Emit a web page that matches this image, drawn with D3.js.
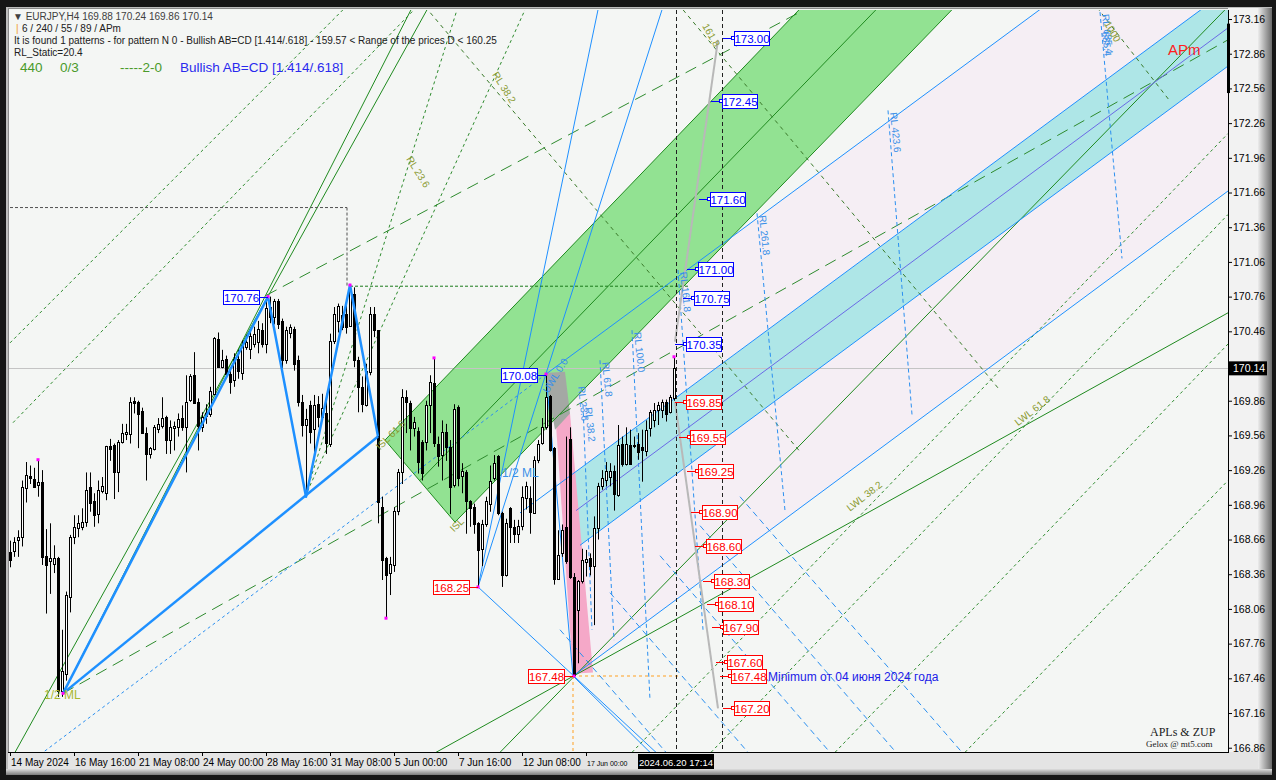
<!DOCTYPE html>
<html>
<head>
<meta charset="utf-8">
<script src="https://cdn.jsdelivr.net/npm/d3@7"></script>
<style>
body { margin: 0; background: #1a1a1a; }
svg { display: block; }
</style>
</head>
<body>
<svg id="chart"></svg>
<script>
// EURJPY H4 bars, 14 May 2024 00:00 .. 20 Jun 2024 16:00
const opens = [168.55,168.56,168.65,168.68,169.11,169.21,169.18,169.13,169.16,168.52,
168.47,168.45,168.50,167.35,167.50,168.16,168.68,168.76,168.77,168.81,
169.11,168.99,168.88,169.08,169.06,169.47,169.48,169.24,169.50,169.57,
169.57,169.86,169.85,169.77,169.58,169.40,169.44,169.62,169.64,169.72,
169.52,169.62,169.63,169.71,169.63,169.86,170.08,169.85,169.63,169.72,
169.74,169.92,170.39,170.15,170.22,170.09,170.04,170.22,170.10,170.33,
170.31,170.35,170.37,170.47,170.35,170.67,170.58,170.72,170.55,170.21,
170.45,170.48,170.21,169.85,169.65,169.82,169.61,169.83,169.72,169.75,
169.49,170.38,170.55,170.60,170.61,170.51,170.78,170.21,169.98,169.83,
170.11,170.61,170.47,168.94,168.50,168.37,168.44,168.90,169.24,169.89,
169.84,169.63,169.60,169.50,169.50,169.82,170.01,169.49,169.39,169.59,
169.46,169.13,169.81,169.21,169.24,168.99,168.94,168.80,168.57,168.79,
168.97,169.19,169.38,168.89,168.35,168.93,168.77,168.71,168.78,169.02,
169.02,168.89,169.35,169.49,169.63,169.90,169.45,168.32,168.54,168.77,
169.53,168.34,168.05,168.30,168.46,168.50,168.43,168.76,169.12,169.17,
169.20,169.25,169.05,169.49,169.32,169.48,169.47,169.49,169.46,169.43,
169.62,169.69,169.78,169.78,169.85,169.76,169.88];
const highs = [168.65,168.68,168.74,169.17,169.33,169.30,169.28,169.35,169.26,168.75,
168.80,168.61,168.51,167.88,168.21,168.70,168.87,168.87,168.93,169.24,
169.24,169.06,169.17,169.20,169.47,169.53,169.49,169.52,169.66,169.66,
169.89,169.89,169.86,169.80,169.63,169.46,169.65,169.71,169.89,169.73,
169.69,169.68,169.75,169.82,170.08,170.09,170.28,169.88,169.76,169.83,
169.98,170.41,170.45,170.30,170.25,170.15,170.27,170.30,170.38,170.43,
170.47,170.50,170.55,170.53,170.73,170.76,170.74,170.74,170.57,170.50,
170.52,170.50,170.25,169.91,169.79,169.86,169.91,169.90,169.92,169.92,
170.44,170.67,170.70,170.68,170.73,170.86,170.84,170.24,170.07,170.18,
170.67,170.67,170.47,169.03,168.51,168.51,168.94,169.27,169.96,169.95,
169.86,169.72,169.63,169.52,169.86,170.08,170.23,169.55,169.69,169.66,
169.52,169.83,169.82,169.32,169.26,169.00,168.97,168.81,168.83,169.03,
169.30,169.39,169.39,168.90,168.84,168.94,168.83,168.83,169.12,169.16,
169.12,169.38,169.52,169.71,170.08,169.91,169.46,168.74,168.79,169.55,
169.63,168.37,168.31,168.58,168.57,168.54,168.86,169.15,169.26,169.33,
169.32,169.30,169.65,169.55,169.63,169.61,169.55,169.58,169.61,169.69,
169.78,169.84,169.85,169.87,169.87,169.91,170.24];
const lows = [168.42,168.51,168.51,168.60,168.98,169.14,169.11,169.03,168.44,168.02,
168.19,168.37,167.30,167.30,167.44,168.03,168.62,168.68,168.74,168.77,
168.90,168.77,168.80,169.06,169.00,169.34,169.01,169.07,169.49,169.52,
169.49,169.75,169.45,169.58,169.17,169.36,169.43,169.58,169.62,169.40,
169.40,169.43,169.55,169.60,169.24,169.85,169.84,169.43,169.59,169.66,
169.72,169.91,170.15,170.14,170.06,169.92,169.98,170.05,170.04,170.30,
170.22,170.32,170.27,170.32,170.27,170.53,170.52,170.48,170.14,170.18,
170.40,170.12,169.81,169.55,169.03,169.49,169.37,169.63,169.70,169.40,
169.46,170.35,170.45,170.47,170.44,170.50,170.15,169.76,169.76,169.81,
170.08,170.41,168.80,168.31,167.98,168.18,168.38,168.87,169.14,169.58,
169.43,169.55,169.23,169.17,169.43,169.58,169.46,169.29,169.17,169.34,
168.88,169.11,169.12,169.06,168.71,168.77,168.71,168.25,168.43,168.77,
168.90,169.17,168.87,168.25,168.34,168.63,168.63,168.63,168.74,168.92,
168.71,168.89,169.32,169.48,169.61,169.42,168.27,168.32,168.51,168.45,
168.32,167.48,167.59,168.28,168.34,168.35,167.92,168.66,169.09,169.12,
169.12,168.91,169.03,169.29,169.30,169.32,169.45,169.35,169.16,169.38,
169.55,169.63,169.65,169.71,169.68,169.75,169.86];
const closes = [168.48,168.64,168.68,169.11,169.22,169.19,169.11,169.16,168.51,168.44,
168.50,168.50,167.35,167.52,168.18,168.68,168.77,168.80,168.81,169.09,
168.97,168.87,169.09,169.12,169.47,169.44,169.25,169.50,169.58,169.59,
169.85,169.84,169.75,169.58,169.40,169.45,169.63,169.66,169.71,169.52,
169.63,169.64,169.70,169.63,169.85,170.07,169.84,169.64,169.72,169.75,
169.94,170.40,170.15,170.21,170.09,170.02,170.22,170.12,170.34,170.37,
170.42,170.44,170.48,170.35,170.66,170.58,170.72,170.52,170.21,170.47,
170.50,170.18,169.85,169.65,169.70,169.59,169.82,169.72,169.80,169.49,
170.38,170.61,170.68,170.50,170.50,170.81,170.21,169.98,169.83,170.12,
170.61,170.47,168.98,168.48,168.35,168.45,168.91,169.24,169.89,169.85,
169.62,169.68,169.33,169.23,169.82,170.02,169.49,169.39,169.59,169.46,
169.11,169.79,169.20,169.25,168.99,168.93,168.79,168.57,168.79,168.99,
169.17,169.32,168.89,168.35,168.80,168.77,168.71,168.78,169.03,169.12,
168.90,169.35,169.49,169.63,169.89,169.43,168.32,168.53,168.74,168.48,
168.34,167.49,168.30,168.48,168.49,168.43,168.76,169.12,169.19,169.25,
169.25,169.05,169.48,169.32,169.49,169.32,169.48,169.42,169.43,169.61,
169.76,169.78,169.82,169.85,169.75,169.89,170.14];

const priceTicks = [173.16,172.86,172.56,172.26,171.96,171.66,171.36,171.06,170.76,170.46,
170.16,169.86,169.56,169.26,168.96,168.66,168.36,168.06,167.76,167.46,167.16,166.86];
const timeTicks = [0,16,32,48,64,80,96,112,128,144];
const timeLabels = ['14 May 2024','16 May 16:00','21 May 08:00','24 May 00:00','28 May 16:00',
  '31 May 08:00','5 Jun 00:00','7 Jun 16:00','12 Jun 08:00','17 Jun 00:00'];
const lastPrice = 170.14;

// ZUP zigzag and pattern pivots [bar, price]
const zigzag = [[13.25,167.33],[64.5,170.76],[74,169.03],[85,170.86],[92,169.55]];
const abLine = [[13.25,167.33],[92,169.55]];
const pivotMarks = [[7,169.35],[13.25,167.33],[64.5,170.76],[85,170.86],[94,167.98],[106,170.23],
  [117,168.25],[134,170.09],[141,167.48],[166,170.24]];
const pivotLabelsUp = [[64.5,170.76],[134,170.08]];
const pivotLabelsDown = [[117,168.25],[140.75,167.48]];

// channels and areas
const greenBand = [[93.75,169.52],[111.25,168.81],[240.25,173.41],[202,173.41]];
const cyanBand = [[140.5,169.22],[307.5,173.49],[307.5,172.83],[142.5,168.61]];
const pinkArea = [[134,170.09],[262.5,173.37],[306,173.37],[306,171.72],[140.75,167.48]];
const patternPink = [[136.25,169.78],[140,169.75],[145.75,167.51],[140.75,167.50]];
const patternGray = [[133.75,170.10],[138.75,170.11],[140,169.75],[136.25,169.61]];

// lines [bar1, price1, bar2, price2]
const greenSolid = [[1.25,166.82,104.25,173.24],[13.25,167.33,100.25,173.24],
  [106.5,166.82,304.5,170.62],[122.5,166.82,303.75,173.24],
  [93.75,169.52,202,173.41],[111.25,168.81,240.25,173.41],[102.5,169.17,221.25,173.41],
  [93.75,169.52,111.25,168.81]];
const greenLongDash = [[13.25,167.33,304.5,172.98],[64,170.77,197.5,173.22]];
const greenDots = [[0,170.36,83.25,173.24],[0.75,169.67,101,173.24],
  [155.5,166.82,304.5,172.17],[175.25,166.82,304.5,171.47],[206.25,166.82,304.5,170.35],
  [238.75,166.82,304.5,169.17],[73.75,169.03,111.75,173.24],[73.75,169.03,128.75,173.24]];
const greenDownDash = [[102.5,173.32,197.5,169.42],[168.25,173.24,247.5,169.95],[271.75,173.26,290,172.45]];
const blueSolid = [[134,170.09,262.5,173.37],[127.5,168.89,307.5,173.49],[142.5,168.61,307.5,172.83],
  [140.75,167.48,307.5,171.75],[117,168.25,163,173.24],[117,168.25,147,173.24],
  [117,168.25,161.5,166.82],[134,170.09,140.75,167.48],[140.75,167.48,160,166.82]];
const cyanMid = [[141.5,168.91,307.5,173.16]];
const blueDotted = [[7.5,166.80,134,170.09]];
const blueDashDown = [[137.5,167.88,164,166.82],[150,168.20,184.5,166.82],[162.5,168.52,205,166.82],
  [172.5,168.78,221.5,166.82],[182.5,169.03,238,166.82]];
const rlLines = [[143.25,169.82,145.5,167.88],[147.5,170.21,151,167.79],[155.5,170.47,160,167.27],
  [167,170.99,173.25,167.88],[186.75,171.48,193.75,168.91],[219.5,172.37,225.5,169.74],
  [272.5,173.22,278,171.09]];
const rlNames = ['RL 38.2','RL 61.8','RL 100.0','RL 161.8','RL 261.8','RL 423.6','RL 685.4'];
const grayDotted = [[0,171.53,84.25,171.53],[84.25,171.53,84.25,170.85]];
const greenLevel = [[85,170.85,170,170.85]];
const orangeDash = [[140.75,167.48,167.5,167.48],[140.75,167.48,140.75,166.82]];
const projection = [[166.25,170.37,177,172.98],[166.25,169.85,177,167.20]];
const timeMarkers = [166.5,178];

// target levels of the pattern
const levelsUp = [173.00,172.45,171.60,171.00,170.75,170.35];
const levelsUpBar = [178.25,175.25,172.25,169.25,168.25,166.25];
const levelsDown = [169.85,169.55,169.25,168.90,168.60,168.30,168.10,167.90,167.60,167.48,167.20];
const levelsDownBar = [166.25,167.25,169.25,170.25,171.25,173.25,174.25,175.5,176.5,177.5,178.25];

const width = 1276, height = 780;
const X0 = 8, X1 = 1228, Y0 = 10, Y1 = 752;
const FONT = 'Liberation Sans, Arial, sans-serif';

const x = d3.scaleLinear().domain([-0.5, 304.5]).range([X0, X1]);
const y = d3.scaleLinear().domain([166.823, 173.238]).range([Y1, Y0]);

const svg = d3.select('#chart').attr('width', width).attr('height', height);
const defs = svg.append('defs');
defs.append('clipPath').attr('id', 'clip')
  .append('rect').attr('x', X0).attr('y', Y0).attr('width', X1 - X0).attr('height', Y1 - Y0);
const gradR = defs.append('linearGradient').attr('id', 'bevelR').attr('x1', 0).attr('x2', 1).attr('y1', 0).attr('y2', 0);
gradR.append('stop').attr('offset', 0).attr('stop-color', '#ececec');
gradR.append('stop').attr('offset', 1).attr('stop-color', '#6a6a6a');
const gradB = defs.append('linearGradient').attr('id', 'bevelB').attr('x1', 0).attr('x2', 0).attr('y1', 0).attr('y2', 1);
gradB.append('stop').attr('offset', 0).attr('stop-color', '#dedede');
gradB.append('stop').attr('offset', 1).attr('stop-color', '#7a7a7a');

// window frame
svg.append('rect').attr('width', width).attr('height', height).attr('fill', '#161616');
svg.append('rect').attr('x', 6).attr('y', 7).attr('width', 1266).attr('height', 767).attr('fill', '#bdbdbd');
svg.append('rect').attr('x', X1).attr('y', 8).attr('width', 30).attr('height', 760).attr('fill', '#f2f2f2');
svg.append('rect').attr('x', 1258).attr('y', 8).attr('width', 14).attr('height', 766).attr('fill', 'url(#bevelR)');
svg.append('rect').attr('x', X0).attr('y', Y1).attr('width', 1250).attr('height', 17).attr('fill', '#e4e4e4');
svg.append('rect').attr('x', 6).attr('y', 769).attr('width', 1266).attr('height', 6).attr('fill', 'url(#bevelB)');
svg.append('rect').attr('x', X0).attr('y', 8).attr('width', X1 - X0).attr('height', Y1 - 8).attr('fill', '#f4f6f4');

const plot = svg.append('g').attr('clip-path', 'url(#clip)');
const line = d3.line().x(d => x(d[0])).y(d => y(d[1]));
const poly = pts => line(pts) + 'Z';

function drawLines(rows, color, w, dash) {
  plot.append('g').selectAll('line').data(rows).enter().append('line')
    .attr('x1', d => x(d[0])).attr('y1', d => y(d[1]))
    .attr('x2', d => x(d[2])).attr('y2', d => y(d[3]))
    .attr('stroke', color).attr('stroke-width', w)
    .attr('stroke-dasharray', dash || null);
}

// filled areas
plot.append('path').attr('d', poly(pinkArea)).attr('fill', '#f5eef4');
plot.append('path').attr('d', poly(greenBand)).attr('fill', '#92e292');
plot.append('path').attr('d', poly(cyanBand)).attr('fill', '#aee6e7');
plot.append('path').attr('d', poly(patternPink)).attr('fill', '#f5a8c8');
plot.append('path').attr('d', poly(patternGray)).attr('fill', '#a4a8a4');

// price line
plot.append('line').attr('x1', X0).attr('x2', X1)
  .attr('y1', Math.round(y(lastPrice)) + 0.5).attr('y2', Math.round(y(lastPrice)) + 0.5)
  .attr('stroke', '#c4c4c4');

drawLines(greenDots, '#2e8b2e', 1, '3,3');
drawLines(greenDownDash, '#3a7a2a', 1, '4,4');
drawLines(greenLongDash, '#2e8b2e', 1, '12,7');
drawLines(greenSolid, '#1f8a1f', 1);
drawLines(blueDashDown, '#2a8ff0', 1, '6,4');
drawLines(rlLines, '#2a8ff0', 1, '4,3');
drawLines(blueDotted, '#2a8ff0', 1, '3,3');
drawLines(blueSolid, '#1e90ff', 1);
drawLines(cyanMid, '#6a6ae6', 1);
drawLines(grayDotted, '#505050', 1, '3,2');
drawLines(greenLevel, '#1a7a1a', 1, '3,2');
drawLines(orangeDash, '#ffa020', 1, '3,3');
drawLines(projection, '#b8b8b8', 2);

plot.append('g').selectAll('line').data(timeMarkers).enter().append('line')
  .attr('x1', d => Math.round(x(d)) + 0.5).attr('x2', d => Math.round(x(d)) + 0.5)
  .attr('y1', Y0).attr('y2', Y1)
  .attr('stroke', '#202020').attr('stroke-dasharray', '4,3');

// candles
const bars = d3.range(closes.length);
const candles = plot.append('g');
candles.selectAll('.wick').data(bars).enter().append('line')
  .attr('x1', i => Math.round(x(i)) + 0.5).attr('x2', i => Math.round(x(i)) + 0.5)
  .attr('y1', i => y(highs[i])).attr('y2', i => y(lows[i]))
  .attr('stroke', '#000');
candles.selectAll('.body').data(bars).enter().append('rect')
  .attr('x', i => Math.round(x(i)) - 0.5)
  .attr('width', 2)
  .attr('y', i => Math.round(y(Math.max(opens[i], closes[i]))) + 0.5)
  .attr('height', i => Math.max(1, Math.round(Math.abs(y(opens[i]) - y(closes[i])))))
  .attr('fill', i => closes[i] >= opens[i] ? '#fff' : '#000')
  .attr('stroke', '#000');

// zigzag
plot.append('path').attr('d', line(zigzag)).attr('fill', 'none')
  .attr('stroke', '#1e90ff').attr('stroke-width', 2.5).attr('stroke-linejoin', 'round');
plot.append('path').attr('d', line(abLine)).attr('fill', 'none')
  .attr('stroke', '#1e90ff').attr('stroke-width', 2.5);

plot.append('g').selectAll('rect').data(pivotMarks).enter().append('rect')
  .attr('x', d => x(d[0]) - 1.5).attr('y', d => y(d[1]) - 1.5)
  .attr('width', 3).attr('height', 3).attr('fill', '#ff00ff');

// pattern target levels
function levelLabel(bar, price, color) {
  const lx = Math.round(x(bar)), ly = Math.round(y(price)) + 0.5;
  plot.append('line').attr('x1', lx).attr('x2', lx + 10).attr('y1', ly).attr('y2', ly).attr('stroke', color);
  plot.append('rect').attr('x', lx + 8.5).attr('y', ly - 2).attr('width', 3).attr('height', 3)
    .attr('fill', '#fff').attr('stroke', color);
  plot.append('rect').attr('x', lx + 11.5).attr('y', ly - 7).attr('width', 35).attr('height', 14)
    .attr('fill', '#fff').attr('stroke', color);
  plot.append('text').attr('x', lx + 29).attr('y', ly + 4).attr('text-anchor', 'middle')
    .attr('fill', color).style('font', '11.5px ' + FONT).text(price.toFixed(2));
}
levelsUp.forEach((p, k) => levelLabel(levelsUpBar[k], p, '#0000ff'));
levelsDown.forEach((p, k) => levelLabel(levelsDownBar[k], p, '#ff0000'));

function pivotLabel(d, color) {
  const px = Math.round(x(d[0])), py = Math.round(y(d[1])) + 0.5;
  plot.append('line').attr('x1', px - 9).attr('x2', px).attr('y1', py).attr('y2', py).attr('stroke', color);
  plot.append('rect').attr('x', px - 44.5).attr('y', py - 7).attr('width', 36).attr('height', 14)
    .attr('fill', '#fff').attr('stroke', color);
  plot.append('text').attr('x', px - 26.5).attr('y', py + 4).attr('text-anchor', 'middle')
    .attr('fill', color).style('font', '11.5px ' + FONT).text(d[1].toFixed(2));
}
pivotLabelsUp.forEach(d => pivotLabel(d, '#0000ff'));
pivotLabelsDown.forEach(d => pivotLabel(d, '#ff0000'));

// line captions
function caption(bar, price, text, color, angle, size) {
  plot.append('text')
    .attr('transform', `translate(${x(bar)},${y(price)}) rotate(${angle})`)
    .attr('fill', color).style('font', `${size || 10}px ${FONT}`).text(text);
}
rlLines.forEach((d, k) => caption(d[0] + 0.5, d[1] - 0.02, rlNames[k], '#3a90e8', 84));
caption(142, 169.98, 'RL 23.6', '#3a90e8', 84);
caption(134.5, 169.92, 'UWL 0.0', '#3a90e8', -58);
caption(120.5, 172.68, 'RL 38.2', '#8a9a30', 58);
caption(99, 171.95, 'RL 23.6', '#8a9a30', 58);
caption(92.5, 169.43, 'ISL 61.8', '#8a9a30', -45);
caption(111, 168.72, 'ISL', '#8a9a30', -45);
caption(210, 168.90, 'LWL 38.2', '#8a9a30', -38);
caption(252, 169.64, 'LWL 61.8', '#8a9a30', -38);
caption(173, 173.10, '161.8', '#8a9a30', 60);
caption(273.5, 173.12, '1000', '#8a9a30', 60);
caption(273, 173.05, '685.4', '#3a90e8', 84);
caption(123, 169.20, '1/2 ML', '#3a90e8', 0, 12);
caption(8.5, 167.28, '1/2 ML', '#a8b830', 0, 12);
caption(189.5, 167.44, 'Minimum от 04 июня 2024 года', '#2020e8', 0, 12);
caption(289.5, 172.85, 'APm', '#ff2020', 0, 15);

// right price axis
const yAxis = d3.axisRight(y).tickValues(priceTicks).tickSize(4).tickFormat(d3.format('.2f'));
const gy = svg.append('g').attr('transform', `translate(${X1},0)`).call(yAxis);
gy.select('.domain').attr('d', `M0.5,${Y0}V${Y1}`).attr('stroke', '#000');
gy.selectAll('text').attr('x', 5).style('font', '10.5px ' + FONT).attr('fill', '#000');
svg.append('rect').attr('x', X1 - 1).attr('y', y(173.12)).attr('width', 3).attr('height', y(172.52) - y(173.12)).attr('fill', '#000');
svg.append('rect').attr('x', X1 + 1).attr('y', y(lastPrice) - 7).attr('width', 38).attr('height', 14).attr('fill', '#000');
svg.append('text').attr('x', X1 + 5).attr('y', y(lastPrice) + 4).attr('fill', '#fff')
  .style('font', '10.5px ' + FONT).text(lastPrice.toFixed(2));

// bottom time axis
svg.append('line').attr('x1', X0).attr('x2', X1 + 1).attr('y1', Y1 + 0.5).attr('y2', Y1 + 0.5).attr('stroke', '#000');
svg.append('line').attr('x1', X0 + 0.5).attr('x2', X0 + 0.5).attr('y1', 8).attr('y2', Y1).attr('stroke', '#8a8a8a');
svg.append('line').attr('x1', X0).attr('x2', X1).attr('y1', 8.5).attr('y2', 8.5).attr('stroke', '#8a8a8a');
const boxLeft = x(timeMarkers[0]) - 38;
const gx = svg.append('g');
gx.selectAll('line').data(timeTicks).enter().append('line')
  .attr('x1', d => Math.round(x(d)) + 0.5).attr('x2', d => Math.round(x(d)) + 0.5)
  .attr('y1', Y1).attr('y2', Y1 + 4).attr('stroke', '#000');
gx.selectAll('text').data(timeTicks).enter().append('text')
  .attr('x', d => x(d) + 1).attr('y', Y1 + 14)
  .style('font-family', FONT).style('font-size', '10px').attr('fill', '#000')
  .text((d, k) => timeLabels[k])
  .each(function (d) {
    const room = boxLeft - 8 - (x(d) + 1);
    let size = 10;
    while (this.getComputedTextLength() > room && size > 6) {
      size -= 0.5;
      d3.select(this).style('font-size', size + 'px');
    }
  });
svg.append('rect').attr('x', boxLeft).attr('y', Y1 + 2).attr('width', 76).attr('height', 15).attr('fill', '#000');
svg.append('text').attr('x', boxLeft + 38).attr('y', Y1 + 14).attr('text-anchor', 'middle')
  .attr('fill', '#fff').style('font', '9.5px ' + FONT).text('2024.06.20 17:14');

// header texts
const head = svg.append('g').style('font', '10px ' + FONT);
head.append('text').attr('x', 13).attr('y', 20).attr('fill', '#404040').text('▼ EURJPY,H4  169.88 170.24 169.86 170.14');
head.append('text').attr('x', 16).attr('y', 32).attr('fill', '#f0a020').text('|');
head.append('text').attr('x', 22).attr('y', 32).attr('fill', '#202020').text('6 / 240 / 55 / 89 / APm');
head.append('text').attr('x', 14).attr('y', 44).attr('fill', '#202020')
  .text('It is found 1 patterns  -  for pattern N 0 - Bullish AB=CD [1.414/.618] - 159.57 < Range of the prices D < 160.25');
head.append('text').attr('x', 14).attr('y', 56).attr('fill', '#202020').text('RL_Static=20.4');
const big = svg.append('g').style('font', '13.5px ' + FONT);
big.append('text').attr('x', 20).attr('y', 72).attr('fill', '#4a9a2a').text('440');
big.append('text').attr('x', 60).attr('y', 72).attr('fill', '#4a9a2a').text('0/3');
big.append('text').attr('x', 120).attr('y', 72).attr('fill', '#4a9a2a').text('-----2-0');
big.append('text').attr('x', 180).attr('y', 72).attr('fill', '#2a2aee').text('Bullish AB=CD [1.414/.618]');

svg.append('text').attr('x', 1150).attr('y', 736).attr('fill', '#202020')
  .style('font', '12px Liberation Serif, serif').text('APLs & ZUP');
svg.append('text').attr('x', 1146).attr('y', 747).attr('fill', '#202020')
  .style('font', '9px Liberation Serif, serif').text('Gelox @ mt5.com');
</script>
</body>
</html>
